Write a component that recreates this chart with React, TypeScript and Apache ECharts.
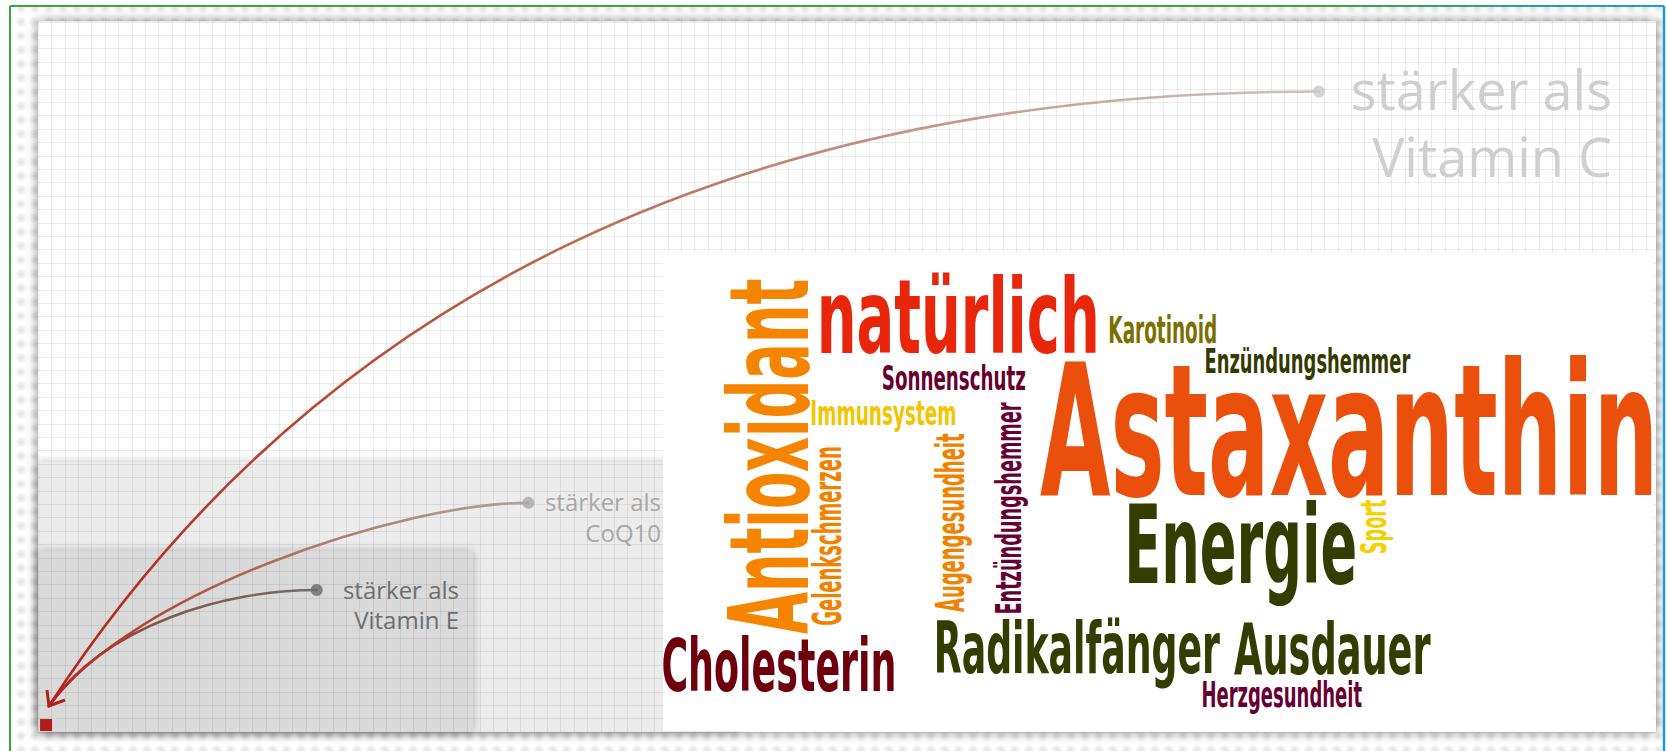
import React, { useEffect, useRef } from 'react';
import * as echarts from 'echarts';

// ---------------- data ----------------
const comparisons = ['Vitamin E', 'CoQ10', 'Vitamin C'];
const labelPrefix = 'stärker als';
// reach of each comparison, in grid cells from the bottom-left corner
const reachX = [20.8, 36.6, 95.6];
const reachY = [10.6, 17.1, 47.8];
const originCell = [0.6, 0.52];
const arrowTipCell = [0.82, 1.94];

const words = [
  'Astaxanthin', 'natürlich', 'Antioxidant', 'Energie', 'Radikalfänger', 'Ausdauer',
  'Cholesterin', 'Karotinoid', 'Enzündungshemmer', 'Sonnenschutz', 'Immunsystem',
  'Gelenkschmerzen', 'Augengesundheit', 'Entzündungshemmer', 'Sport', 'Herzgesundheit',
];
const wordWeights = [140, 81, 84, 83, 55, 54, 55, 28, 26, 26, 25, 29, 29, 28, 27, 27];

// ---------------- layout / style ----------------
// horizontal: [x0, x1, baseline, 0]   vertical (reads upward): [xBaseline, yStart, yEnd, 1]
const wordLayout = [
  [1040, 1652, 495, 0],
  [821, 1096, 353, 0],
  [808, 634, 280, 1],
  [1129, 1355, 583, 0],
  [937, 1220, 673, 0],
  [1234, 1431, 674, 0],
  [663, 894, 691, 0],
  [1110, 1216, 343, 0],
  [1206, 1410, 373, 0],
  [883, 1025, 390, 0],
  [812, 955, 425, 0],
  [841, 625, 447, 1],
  [964, 612, 434, 1],
  [1021, 613, 402, 1],
  [1386, 553, 500, 1],
  [1203, 1362, 707, 0],
];
const wordColors = [
  '#EA500C', '#E8260C', '#F58500', '#333D00', '#333D00', '#333D00', '#6E000E', '#7A7000',
  '#333A00', '#66002E', '#F2C500', '#F08200', '#F08200', '#660033', '#F5D000', '#660033',
];
const labelLayout = [
  { right: 459, base1: 599, base2: 629, size: 24, color: '#6d6d6d' },
  { right: 661, base1: 511, base2: 542, size: 24, color: '#a8a8a8' },
  { right: 1612, base1: 110, base2: 177, size: 54, color: '#cfcfcf' },
];
const dotColors = ['#6a6a6a', '#a9a9a9', '#c9c9c9'];
const curveStops = [
  [['#b3221a', 0], ['#825a50', 0.5], ['#6c6c6c', 1]],
  [['#b3221a', 0], ['#ad6f5c', 0.5], ['#aaa4a1', 1]],
  [['#b3221a', 0], ['#b9664c', 0.45], ['#cfc3bc', 1]],
];
const curveShapes = [
  { angle: 55, startLen: 100, endLen: 90 },
  { angle: 54, startLen: 140, endLen: 128 },
  { angle: 57, startLen: 490, endLen: 576 },
];

const WORD_FAMILY = '"Liberation Sans Narrow", "DejaVu Sans Condensed", "Liberation Sans", sans-serif';
const LABEL_FAMILY = '"Open Sans", "DejaVu Sans", sans-serif';

let mctx: CanvasRenderingContext2D | null = null;
function measure(text: string, font: string) {
  if (!mctx) mctx = document.createElement('canvas').getContext('2d');
  const ctx = mctx as CanvasRenderingContext2D;
  ctx.font = font;
  const m = ctx.measureText(text);
  return {
    left: m.actualBoundingBoxLeft,
    right: m.actualBoundingBoxRight,
    ascent: m.actualBoundingBoxAscent,
    fAsc: (m as any).fontBoundingBoxAscent ?? 0.9 * parseFloat(font.replace(/^\D*/, '')),
    fDesc: (m as any).fontBoundingBoxDescent ?? 0.21 * parseFloat(font.replace(/^\D*/, '')),
  };
}

function buildWord(i: number) {
  const font = `bold 100px ${WORD_FAMILY}`;
  const m = measure(words[i], font);
  const [a, b, c, vert] = wordLayout[i];
  const len = vert ? b - c : b - a;
  const sx = len / (m.left + m.right);
  const sy = wordWeights[i] / m.ascent;
  const central = (m.fAsc - m.fDesc) / 2;
  return {
    type: 'text',
    z: 11,
    silent: true,
    x: a,
    y: vert ? b : c,
    rotation: vert ? Math.PI / 2 : 0,
    scaleX: sx,
    scaleY: sy,
    style: {
      text: words[i], x: m.left, y: -central, font, fill: wordColors[i],
      textAlign: 'left', align: 'left', textVerticalAlign: 'middle', verticalAlign: 'middle',
    },
  };
}

function buildLabels(i: number) {
  const L = labelLayout[i];
  const font = `${L.size}px ${LABEL_FAMILY}`;
  const m = measure('Hg', font);
  const central = (m.fAsc - m.fDesc) / 2;
  const lines: [string, number][] = [[labelPrefix, L.base1], [comparisons[i], L.base2]];
  return lines.map(([t, base]) => ({
    type: 'text', z: 5, silent: true, x: L.right, y: base,
    style: {
      text: t, x: 0, y: -central, font, fill: L.color,
      textAlign: 'right', align: 'right', textVerticalAlign: 'middle', verticalAlign: 'middle',
    },
  }));
}

function makePattern(): string {
  const c = document.createElement('canvas');
  c.width = 14; c.height = 14;
  const g = c.getContext('2d') as CanvasRenderingContext2D;
  g.fillStyle = '#fff'; g.fillRect(0, 0, 14, 14);
  const rg = g.createRadialGradient(7, 8, 0, 7, 8, 6);
  rg.addColorStop(0, 'rgba(0,0,0,0.12)');
  rg.addColorStop(1, 'rgba(0,0,0,0)');
  g.fillStyle = rg; g.fillRect(0, 0, 14, 14);
  return c.toDataURL();
}

export default function App() {
  const ref = useRef<HTMLDivElement>(null);
  useEffect(() => {
    document.body.style.margin = '0';
    if (!ref.current) return;
    const chart = echarts.init(ref.current, null, { renderer: 'svg', width: 1667, height: 751 });

    let bandFill: any = '#f3f3f3';
    try { bandFill = { image: makePattern(), repeat: 'repeat', imageWidth: 14, imageHeight: 14 }; } catch (e) { /* keep flat */ }

    const graphicEls: any[] = [
      { type: 'rect', z: -30, silent: true, shape: { x: 11, y: 7, width: 1652, height: 744 }, style: { fill: bandFill } },
      { type: 'rect', z: -20, silent: true, shape: { x: 38, y: 21, width: 1618, height: 711 },
        style: { fill: '#ffffff', shadowBlur: 12, shadowColor: 'rgba(0,0,0,0.45)' } },
      { type: 'rect', z: -19, silent: true, shape: { x: 38, y: 462, width: 700, height: 270 },
        style: { fill: '#ececec', shadowBlur: 10, shadowColor: 'rgba(0,0,0,0.25)' } },
      { type: 'rect', z: -18, silent: true, shape: { x: 38, y: 551, width: 435, height: 181 },
        style: { fill: '#dadada', shadowBlur: 10, shadowColor: 'rgba(0,0,0,0.25)' } },
      { type: 'line', z: -10, silent: true, shape: { x1: 10, y1: 6, x2: 10, y2: 751 }, style: { stroke: '#3ca53c', lineWidth: 2 } },
      { type: 'line', z: -10, silent: true, shape: { x1: 10, y1: 6, x2: 1664, y2: 6 },
        style: { stroke: new echarts.graphic.LinearGradient(10, 0, 1664, 0, [
          { offset: 0, color: '#3ca53c' }, { offset: 0.8, color: '#3ca53c' }, { offset: 1, color: '#1a9ed8' }], true), lineWidth: 2 } },
      { type: 'line', z: -10, silent: true, shape: { x1: 1664, y1: 6, x2: 1664, y2: 751 }, style: { stroke: '#1a9ed8', lineWidth: 2.5 } },
      { type: 'rect', z: 10, silent: true, shape: { x: 663, y: 253, width: 990, height: 478 }, style: { fill: '#ffffff' } },
    ];
    words.forEach((_, i) => graphicEls.push(buildWord(i)));
    comparisons.forEach((_, i) => graphicEls.push(...buildLabels(i)));

    const hiddenAxis = {
      type: 'value', min: 0, interval: 1,
      axisLine: { show: false }, axisTick: { show: false }, axisLabel: { show: false },
      splitLine: { show: true, lineStyle: { color: 'rgba(0,0,0,0.075)', width: 1 } },
    };

    chart.setOption({
      animation: false,
      backgroundColor: '#ffffff',
      grid: { left: 38, top: 21, width: 1618, height: 711, show: false },
      xAxis: { ...hiddenAxis, max: 120.75 },
      yAxis: { ...hiddenAxis, max: 53.06 },
      graphic: { elements: graphicEls },
      series: [
        {
          type: 'custom', coordinateSystem: 'cartesian2d', z: 3, silent: true,
          data: comparisons.map((_, i) => [reachX[i], reachY[i], i]),
          renderItem: (params: any, api: any) => {
            const i = api.value(2);
            const end = api.coord([api.value(0), api.value(1)]);
            const tip = api.coord(arrowTipCell);
            const sh = curveShapes[i];
            const a = (sh.angle * Math.PI) / 180;
            const stops = curveStops[i].map(([color, offset]) => ({ color, offset }));
            return {
              type: 'bezierCurve',
              shape: {
                x1: tip[0], y1: tip[1], x2: end[0], y2: end[1],
                cpx1: tip[0] + sh.startLen * Math.cos(a), cpy1: tip[1] - sh.startLen * Math.sin(a),
                cpx2: end[0] - sh.endLen, cpy2: end[1],
              },
              style: {
                fill: 'none', lineWidth: 2.6, lineCap: 'round',
                stroke: new echarts.graphic.LinearGradient(tip[0], tip[1], end[0], end[1], stops as any, true),
              },
            };
          },
        },
        {
          type: 'scatter', z: 4, silent: true, symbolSize: 12,
          data: comparisons.map((_, i) => ({ value: [reachX[i], reachY[i]], itemStyle: { color: dotColors[i] } })),
        },
        {
          type: 'custom', coordinateSystem: 'cartesian2d', z: 4, silent: true,
          data: [[originCell[0], originCell[1]]],
          renderItem: (params: any, api: any) => {
            const o = api.coord([api.value(0), api.value(1)]);
            const t = api.coord(arrowTipCell);
            return {
              type: 'group',
              children: [
                { type: 'rect', shape: { x: o[0] - 6, y: o[1] - 6, width: 12, height: 12 }, style: { fill: '#b01c1c' } },
                { type: 'polyline', shape: { points: [[t[0] - 2, t[1] - 16], [t[0], t[1]], [t[0] + 16, t[1] - 6]] },
                  style: { stroke: '#b3221a', lineWidth: 3, fill: 'none' } },
              ],
            };
          },
        },
      ],
    });
    return () => chart.dispose();
  }, []);
  return <div ref={ref} style={{ width: 1667, height: 751 }} />;
}
